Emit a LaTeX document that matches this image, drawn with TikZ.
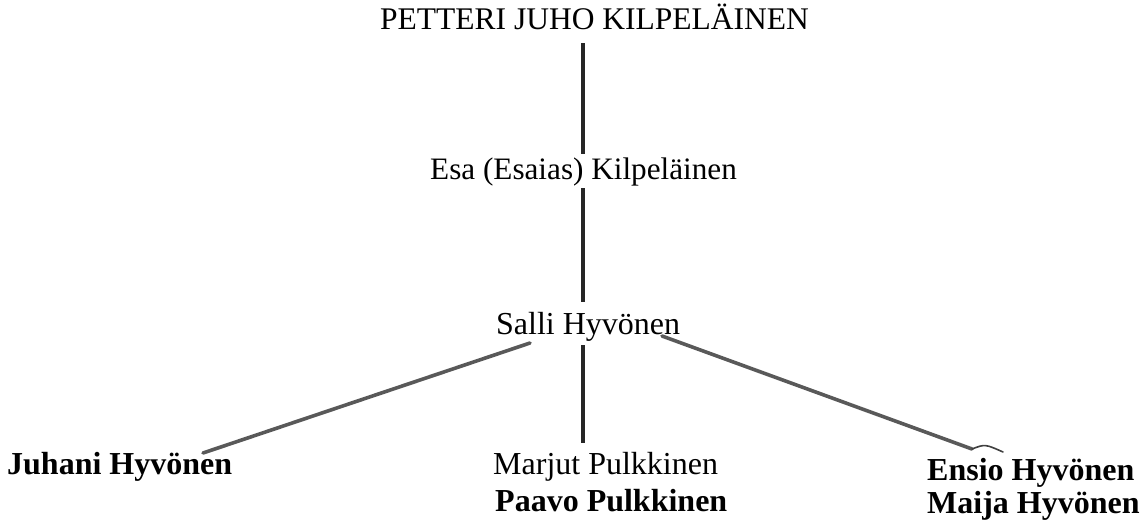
\documentclass[tikz,border=0pt]{standalone}
\usepackage{fontspec}
\setmainfont{Liberation Serif}
\begin{document}
\begin{tikzpicture}[x=1pt,y=-1pt,
  lbl/.style={inner sep=0pt, anchor=base west, font=\fontsize{32}{38}\selectfont},
  blbl/.style={lbl, font=\fontsize{32}{38}\selectfont\bfseries},
  vline/.style={line width=3.2pt, black!85},
  dline/.style={line width=3.6pt, black!65, line cap=round}]
\useasboundingbox (0,0) rectangle (1144,525);
% persons
\node[lbl, font=\fontsize{31.5}{38}\selectfont] (petteri) at (380,29) {PETTERI JUHO KILPELÄINEN};
\node[lbl, font=\fontsize{31.2}{38}\selectfont] (esa) at (430,179) {Esa (Esaias) Kilpeläinen};
\node[lbl] (salli) at (496,334) {Salli Hyvönen};
\node[blbl] (juhani) at (7,474) {Juhani Hyvönen};
\node[lbl] (marjut) at (493,474) {Marjut Pulkkinen};
\node[blbl] (paavo) at (495,511) {Paavo Pulkkinen};
\node[blbl] (ensio) at (927,480) {Ensio Hyvönen};
\node[blbl] (maija) at (927,513) {Maija Hyvönen};
% connector end points
\coordinate (p1) at (583,43);
\coordinate (e1) at (583,154);
\coordinate (e2) at (583,188);
\coordinate (s1) at (583,302);
\coordinate (s2) at (583,345);
\coordinate (m1) at (583,443);
\coordinate (sl) at (530,343);
\coordinate (jl) at (203,453);
\coordinate (sr) at (662,336);
\coordinate (er) at (972,449);
\coordinate (erh) at (1003,452);
% connectors
\draw[vline] (p1) -- (e1);
\draw[vline] (e2) -- (s1);
\draw[vline] (s2) -- (m1);
\draw[dline] (sl) -- (jl);
\draw[dline] (sr) -- (er);
\draw[black!75, line width=1.6pt, line cap=round] (er) .. controls (985,444) .. (erh);
\end{tikzpicture}
\end{document}
